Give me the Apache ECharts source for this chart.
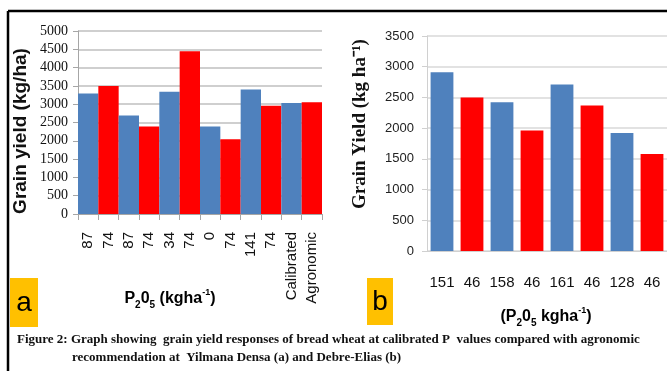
<!DOCTYPE html>
<html><head><meta charset="utf-8">
<script src="https://cdn.jsdelivr.net/npm/echarts@6/dist/echarts.min.js"></script>
<style>html,body{margin:0;padding:0;background:#fff}#c{width:667px;height:371px}</style>
</head><body><div id="c"></div>
<script>
// Panel (a) Yilmana Densa
const catsA = ['87','74','87','74','34','74','0','74','141','74','Calibrated','Agronomic'];
const valsA = [3290,3500,2690,2390,3340,4450,2390,2040,3400,2960,3030,3050];
const yTicksA = [0,500,1000,1500,2000,2500,3000,3500,4000,4500,5000];
// Panel (b) Debre-Elias
const catsB = ['151','46','158','46','161','46','128','46'];
const valsB = [2910,2500,2420,1960,2710,2370,1920,1580];
const yTicksB = [0,500,1000,1500,2000,2500,3000,3500];

const BLUE = '#4F81BD', RED = '#FF0000';
const alt = p => (p.dataIndex % 2 === 0 ? BLUE : RED);
const plain = v => String(v);

const chart = echarts.init(document.getElementById('c'), null, {renderer:'canvas'});

const sub = {
  n:{fontSize:16, fontWeight:'bold', fontFamily:'Liberation Sans', color:'#111', lineHeight:22, verticalAlign:'middle'},
  s:{fontSize:10, fontWeight:'bold', fontFamily:'Liberation Sans', color:'#111', verticalAlign:'bottom', lineHeight:22},
  p:{fontSize:9, fontWeight:'bold', fontFamily:'Liberation Sans', color:'#111', verticalAlign:'top', lineHeight:22}
};

chart.setOption({
  animation:false,
  backgroundColor:'#fff',
  grid:[
    {left:78, top:31, width:244, height:183},
    {left:427, top:36, width:240, height:215}
  ],
  xAxis:[
    {type:'category', gridIndex:0, data:catsA,
     axisLine:{lineStyle:{color:'#A6A6A6', width:1}},
     axisTick:{show:true, alignWithLabel:false, length:6, lineStyle:{color:'#A6A6A6'}},
     axisLabel:{rotate:90, margin:18, fontSize:15, fontFamily:'Liberation Sans', color:'#111', interval:0}},
    {type:'category', gridIndex:1, data:catsB,
     axisLine:{lineStyle:{color:'#D0D0D0', width:1}},
     axisTick:{show:false},
     axisLabel:{margin:24, fontSize:15, fontFamily:'Liberation Sans', color:'#111', interval:0}}
  ],
  yAxis:[
    {type:'value', gridIndex:0, min:yTicksA[0], max:yTicksA[yTicksA.length-1], interval:yTicksA[1]-yTicksA[0],
     axisLine:{show:true, lineStyle:{color:'#A6A6A6'}},
     axisTick:{show:true, length:5, lineStyle:{color:'#A6A6A6'}},
     splitLine:{lineStyle:{color:'#BFBFBF', width:1.5}},
     axisLabel:{margin:10, fontSize:14, fontFamily:'Liberation Serif', color:'#111', formatter:plain}},
    {type:'value', gridIndex:1, min:yTicksB[0], max:yTicksB[yTicksB.length-1], interval:yTicksB[1]-yTicksB[0],
     axisLine:{show:true, lineStyle:{color:'#D0D0D0'}},
     axisTick:{show:true, length:5, lineStyle:{color:'#D0D0D0'}},
     splitLine:{lineStyle:{color:'#D9D9D9', width:1.5}},
     axisLabel:{margin:13, fontSize:13, fontFamily:'Liberation Sans', color:'#222', formatter:plain}}
  ],
  series:[
    {type:'bar', xAxisIndex:0, yAxisIndex:0, data:valsA, barCategoryGap:'0%', barWidth:'100%',
     itemStyle:{color:alt}},
    {type:'bar', xAxisIndex:1, yAxisIndex:1, data:valsB, barCategoryGap:'24%',
     itemStyle:{color:alt}}
  ],
  graphic:[
    {type:'line', shape:{x1:8, y1:11, x2:667, y2:11}, style:{stroke:'#000', lineWidth:2.5}, z:10},
    {type:'line', shape:{x1:8, y1:11, x2:8, y2:371}, style:{stroke:'#000', lineWidth:2.5}, z:10},
    {type:'rect', shape:{x:10, y:278, width:28, height:49}, style:{fill:'#FFC000'}},
    {type:'text', x:24, y:303, style:{text:'a', fontSize:28, fontFamily:'Liberation Sans', fill:'#000', align:'center', verticalAlign:'middle'}},
    {type:'rect', shape:{x:367, y:278, width:26, height:47}, style:{fill:'#FFC000'}},
    {type:'text', x:380, y:302, style:{text:'b', fontSize:28, fontFamily:'Liberation Sans', fill:'#000', align:'center', verticalAlign:'middle'}},
    {type:'text', x:21, y:131, rotation:Math.PI/2,
     style:{text:'Grain yield (kg/ha)', fontSize:19, fontWeight:'bold', fontFamily:'Liberation Sans', fill:'#111', align:'center', verticalAlign:'middle'}},
    {type:'text', x:360, y:124, rotation:Math.PI/2,
     style:{text:'Grain Yield (kg ha⁻¹)', fontSize:19, fontWeight:'bold', fontFamily:'Liberation Serif', fill:'#111', align:'center', verticalAlign:'middle'}},
    {type:'text', x:170, y:299,
     style:{text:'{n|P}{s|2}{n|0}{s|5}{n| (kgha}{p|-1}{n|)}', rich:sub, align:'center', verticalAlign:'middle'}},
    {type:'text', x:546, y:317,
     style:{text:'{n|(P}{s|2}{n|0}{s|5}{n| kgha}{p|-1}{n|)}', rich:sub, align:'center', verticalAlign:'middle'}},
    {type:'text', x:17, y:340,
     style:{text:'Figure 2: Graph showing  grain yield responses of bread wheat at calibrated P  values compared with agronomic', fontSize:13, fontWeight:'bold', fontFamily:'Liberation Serif', fill:'#111', align:'left', verticalAlign:'middle'}},
    {type:'text', x:72, y:358,
     style:{text:'recommendation at  Yilmana Densa (a) and Debre-Elias (b)', fontSize:13, fontWeight:'bold', fontFamily:'Liberation Serif', fill:'#111', align:'left', verticalAlign:'middle'}}
  ]
});
</script></body></html>
